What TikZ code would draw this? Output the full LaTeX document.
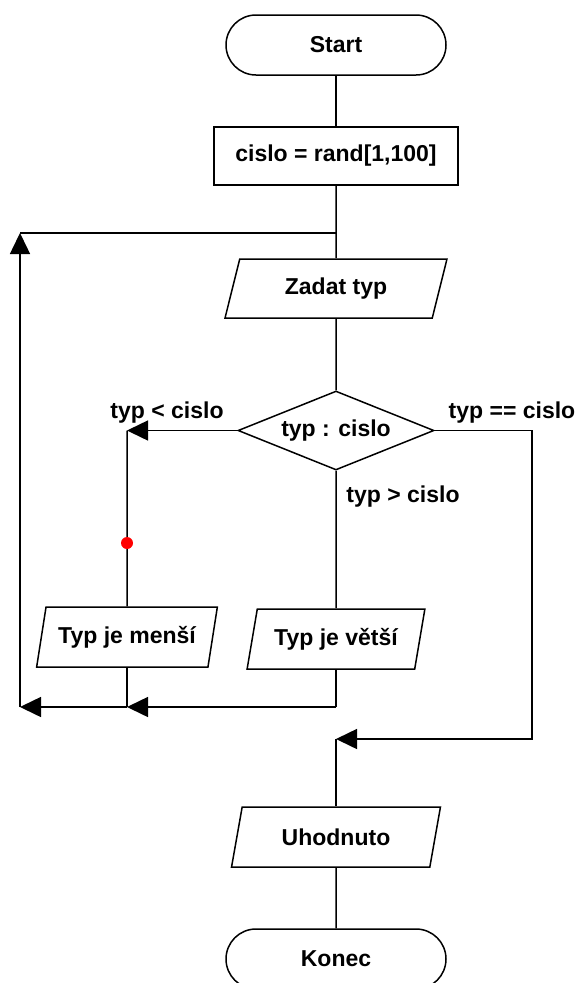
\documentclass[tikz,border=0pt]{standalone}
\usepackage{fontspec}
\setmainfont{Liberation Sans}
\usetikzlibrary{shapes.geometric,arrows.meta}
\begin{document}
\begin{tikzpicture}[x=1pt,y=-1pt,
  every node/.style={font=\fontsize{23}{27}\selectfont\bfseries},
  flow/.style={line width=1.5pt},
  arr/.style={flow,-{Triangle[length=21pt,width=20pt]}},
  term/.style={draw,flow,rectangle,rounded corners=30pt,minimum width=220pt,minimum height=60pt,inner sep=0pt},
  proc/.style={draw,flow,rectangle,minimum width=244pt,minimum height=58pt,inner sep=0pt},
  iobox/.style={draw,flow,trapezium,trapezium left angle=70,trapezium right angle=110,
    trapezium stretches=true,minimum height=60pt,inner sep=0pt},
  decide/.style={draw,flow,diamond,aspect=2.5,minimum width=196pt,minimum height=79pt,inner sep=0pt},
  lbl/.style={anchor=base,inner sep=0pt}]
\useasboundingbox (0,0) rectangle (578,983);

% main column
\node[term] (start) at (336,45) {Start};
\node[proc] (init) at (336,156) {cislo = rand[1,100]};
\coordinate (loop) at (336,233);
\node[iobox,minimum width=222pt,minimum height=59pt] (zadat) at (336,288.5) {Zadat typ};
\node[decide] (cmp) at (336,430.5) {typ : cislo};

% branches
\node[iobox,minimum width=181pt] (mensi) at (127,637) {Typ je menší};
\node[iobox,minimum width=178pt] (vetsi) at (336,639) {Typ je větší};
\node[iobox,minimum width=209pt] (uhod) at (336,837) {Uhodnuto};
\node[term] (konec) at (336,959) {Konec};

% routing points
\coordinate (lt) at (127,430.5);
\coordinate (mj) at (127,707);
\coordinate (vj) at (336,707);
\coordinate (lj) at (20,707);
\coordinate (lt2) at (20,233);
\coordinate (rt) at (532,430.5);
\coordinate (rb) at (532,739);
\coordinate (ej) at (336,739);

% branch labels
\node[lbl] (lless) at (167,418) {typ < cislo};
\node[lbl] (lequal) at (512,418) {typ == cislo};
\node[lbl] (lgreater) at (403,502) {typ > cislo};

% connectors
\draw[flow] (start) -- (init);
\draw[flow] (init) -- (loop) -- (zadat);
\draw[flow] (zadat) -- (cmp);
\draw[arr] (cmp.west) -- (lt);
\draw[flow] (lt) -- (mensi);
\draw[flow] (cmp) -- (vetsi);
\draw[flow] (vetsi) -- (vj);
\draw[arr] (vj) -- (mj);
\draw[flow] (mensi) -- (mj);
\draw[arr] (mj) -- (lj);
\draw[arr] (lj) -- (lt2);
\draw[flow] (lt2) -- (loop);
\draw[arr] (cmp.east) -- (rt) -- (rb) -- (ej);
\draw[flow] (ej) -- (uhod);
\draw[flow] (uhod) -- (konec);

% breakpoint marker
\fill[red] (127,543) circle (6);
\end{tikzpicture}
\end{document}
